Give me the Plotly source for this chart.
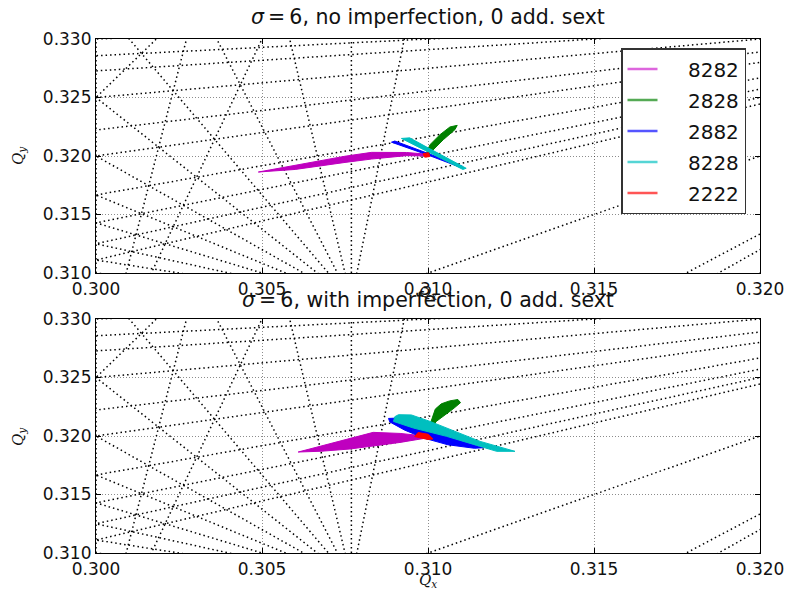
import math
import plotly.graph_objects as go

# ---------------- data ----------------
qx_ticks = [0.300, 0.305, 0.310, 0.315, 0.320]
qy_ticks = [0.310, 0.315, 0.320, 0.325, 0.330]
qx_range = [0.300, 0.320]
qy_range = [0.310, 0.330]

max_resonance_order = 15   # resonance lines m*Qx + n*Qy = p, |m|+|n| <= order

titles = ["<i>σ</i>\u2009=\u20096, no imperfection, 0 add. sext",
          "<i>σ</i>\u2009=\u20096, with imperfection, 0 add. sext"]

series_names = ["8282", "2828", "2882", "8228", "2222"]
series_colors = ["#bf00bf", "#008000", "#0000ff", "#00bfbf", "#ff0000"]
legend_colors = ["#dd66dd", "#55aa55", "#5555ff", "#55d5d5", "#ff5555"]

# footprint outlines, top panel (no imperfection)
top_8282_x = [0.30489, 0.30600, 0.30665, 0.30750, 0.30830, 0.30935, 0.31000,
              0.31000, 0.30935, 0.30830, 0.30750, 0.30665, 0.30600]
top_8282_y = [0.31863, 0.31920, 0.31954, 0.31998, 0.32031, 0.32030, 0.32015,
              0.32000, 0.32003, 0.31974, 0.31945, 0.31911, 0.31885]
top_2828_x = [0.30996, 0.31006, 0.31036, 0.31066, 0.31088, 0.31081, 0.31046, 0.31016, 0.31001]
top_2828_y = [0.32026, 0.32097, 0.32182, 0.32248, 0.32262, 0.32225, 0.32139, 0.32054, 0.32011]
top_2882_x = [0.30890, 0.30900, 0.31000, 0.31103, 0.31098, 0.31000]
top_2882_y = [0.32118, 0.32128, 0.32022, 0.31913, 0.31903, 0.32008]
top_8228_x = [0.30920, 0.30945, 0.31000, 0.31115, 0.31105, 0.31000, 0.30930]
top_8228_y = [0.32150, 0.32155, 0.32070, 0.31895, 0.31885, 0.32035, 0.32132]
top_2222_x = [0.30985, 0.31002, 0.31005, 0.30990]
top_2222_y = [0.32020, 0.32028, 0.31995, 0.31990]

# footprint outlines, bottom panel (with imperfection)
bot_8282_x = [0.30609, 0.30765, 0.30835, 0.30916, 0.31000,
              0.31000, 0.30916, 0.30765, 0.30680]
bot_8282_y = [0.31863, 0.31979, 0.32031, 0.32022, 0.31997,
              0.31985, 0.31945, 0.31889, 0.31870]
bot_2828_x = [0.31005, 0.31012, 0.31022, 0.31040, 0.31065, 0.31090, 0.31098,
              0.31075, 0.31050, 0.31025, 0.31015]
bot_2828_y = [0.32090, 0.32150, 0.32230, 0.32275, 0.32300, 0.32312, 0.32285,
              0.32230, 0.32180, 0.32125, 0.32085]
bot_2882_x = [0.30881, 0.30920, 0.31000, 0.31100, 0.31167, 0.31140, 0.31060, 0.30990, 0.30930, 0.30885]
bot_2882_y = [0.32150, 0.32155, 0.32060, 0.31960, 0.31900, 0.31895, 0.31925, 0.31980, 0.32050, 0.32120]
bot_8228_x = [0.30911, 0.30950, 0.31006, 0.31157, 0.31262, 0.31207, 0.31056, 0.30956, 0.30896, 0.30900]
bot_8228_y = [0.32182, 0.32180, 0.32125, 0.31954, 0.31869, 0.31869, 0.31997, 0.32068, 0.32125, 0.32165]
bot_2222_x = [0.30970, 0.31000, 0.31015, 0.31000, 0.30960]
bot_2222_y = [0.32030, 0.32015, 0.31975, 0.31970, 0.31995]

top_footprints = [(top_8282_x, top_8282_y), (top_2828_x, top_2828_y), (top_2882_x, top_2882_y),
                  (top_8228_x, top_8228_y), (top_2222_x, top_2222_y)]
bot_footprints = [(bot_8282_x, bot_8282_y), (bot_2828_x, bot_2828_y), (bot_2882_x, bot_2882_y),
                  (bot_8228_x, bot_8228_y), (bot_2222_x, bot_2222_y)]

# ---------------- figure ----------------
W, H = 786, 599
ML, MR, MT, MB = 96, 26, 39, 46
plot_h = H - MT - MB
plot_w = W - ML - MR
panel_h = 234
top_dom = [1 - panel_h / plot_h, 1]
bot_dom = [0, panel_h / plot_h]

fig = go.Figure()


def resonance_segments():
    """Lines m*Qx + n*Qy = p crossing the tune window."""
    xs, ys = [], []
    N = max_resonance_order
    x0, x1 = qx_range
    y0, y1 = qy_range
    seen = set()
    for m in range(-N, N + 1):
        for n in range(-N, N + 1):
            if (m == 0 and n == 0) or abs(m) + abs(n) > N:
                continue
            vals = [m * x + n * y for x in (x0, x1) for y in (y0, y1)]
            for p in range(math.ceil(min(vals) - 1e-12), math.floor(max(vals) + 1e-12) + 1):
                if n != 0:
                    xa, xb = x0 - 0.01, x1 + 0.01
                    seg = ((xa, (p - m * xa) / n), (xb, (p - m * xb) / n))
                    key = (round(seg[0][1], 9), round(seg[1][1], 9))
                else:
                    xv = p / m
                    seg = ((xv, y0 - 0.01), (xv, y1 + 0.01))
                    key = ("v", round(xv, 9))
                if key in seen:
                    continue
                seen.add(key)
                xs += [seg[0][0], seg[1][0], None]
                ys += [seg[0][1], seg[1][1], None]
    return xs, ys


rx, ry = resonance_segments()
for ax in ("", "2"):
    fig.add_trace(go.Scatter(x=rx, y=ry, mode="lines", xaxis="x" + ax, yaxis="y" + ax,
                             line=dict(color="black", width=1.5, dash="1.5px,3px"),
                             hoverinfo="skip", showlegend=False))

for ax, fps in (("", top_footprints), ("2", bot_footprints)):
    for (fx, fy), col in zip(fps, series_colors):
        fig.add_trace(go.Scatter(x=fx + [fx[0]], y=fy + [fy[0]], mode="lines", fill="toself",
                                 fillcolor=col, line=dict(color=col, width=1),
                                 xaxis="x" + ax, yaxis="y" + ax, showlegend=False, hoverinfo="skip"))

for name, col in zip(series_names, legend_colors):
    fig.add_trace(go.Scatter(x=[None], y=[None], mode="lines", name="\u00a0\u00a0\u00a0\u00a0" + name,
                             legendgroup=name,
                             line=dict(color=col, width=2.5), xaxis="x", yaxis="y"))

axis_common = dict(showline=True, linecolor="black", linewidth=1.2, mirror="ticks",
                   ticks="inside", ticklen=5, tickcolor="black", automargin=False,
                   showgrid=True, gridcolor="rgba(0,0,0,0.45)", gridwidth=0.6, griddash="1px,2px",
                   zeroline=False, tickfont=dict(family="DejaVu Sans", size=17, color="#111"))
tick_text_x = [f"{v:.3f}" for v in qx_ticks]
tick_text_y = [f"{v:.3f}" for v in qy_ticks]

fig.update_layout(
    width=W, height=H, margin=dict(l=ML, r=MR, t=MT, b=MB, autoexpand=False),
    paper_bgcolor="white", plot_bgcolor="white",
    xaxis=dict(domain=[0, 1], range=qx_range, tickvals=qx_ticks, ticktext=tick_text_x,
               anchor="y", **axis_common),
    yaxis=dict(domain=top_dom, range=qy_range, tickvals=qy_ticks, ticktext=tick_text_y,
               anchor="x", **axis_common),
    xaxis2=dict(domain=[0, 1], range=qx_range, tickvals=qx_ticks, ticktext=tick_text_x,
                anchor="y2", **axis_common),
    yaxis2=dict(domain=bot_dom, range=qy_range, tickvals=qy_ticks, ticktext=tick_text_y,
                anchor="x2", **axis_common),
    legend=dict(x=(621 - ML) / plot_w, y=(H - MB - 48) / plot_h, xanchor="left", yanchor="top",
                bgcolor="white", bordercolor="#333", borderwidth=1.5,
                font=dict(family="DejaVu Sans", size=20, color="#111"), tracegroupgap=2),
    showlegend=True,
)


def px_to_paper_y(py):
    return (H - MB - py) / plot_h


def px_to_paper_x(px):
    return (px - ML) / plot_w


annots = [
    dict(text=titles[0], x=px_to_paper_x(428), y=px_to_paper_y(17), size=20.5),
    dict(text=titles[1], x=px_to_paper_x(428), y=px_to_paper_y(300), size=20.5),
    dict(text="<i>Q<sub>x</sub></i>", x=px_to_paper_x(428), y=px_to_paper_y(292), size=15),
    dict(text="<i>Q<sub>x</sub></i>", x=px_to_paper_x(428), y=px_to_paper_y(580), size=15),
]
for a in annots:
    fig.add_annotation(text=a["text"], x=a["x"], y=a["y"], xref="paper", yref="paper",
                       showarrow=False, xanchor="center", yanchor="middle",
                       font=dict(family="DejaVu Sans" if "σ" in a["text"] else "DejaVu Serif",
                                 size=a["size"], color="#111"))
for py in (156, 437):
    fig.add_annotation(text="<i>Q<sub>y</sub></i>", x=px_to_paper_x(18), y=px_to_paper_y(py),
                       xref="paper", yref="paper", showarrow=False, textangle=-90,
                       xanchor="center", yanchor="middle",
                       font=dict(family="DejaVu Serif", size=15, color="#111"))

fig.write_html("out.html", config={"displayModeBar": False},
               post_script="document.body.style.margin='0';document.body.style.overflow='hidden';")
